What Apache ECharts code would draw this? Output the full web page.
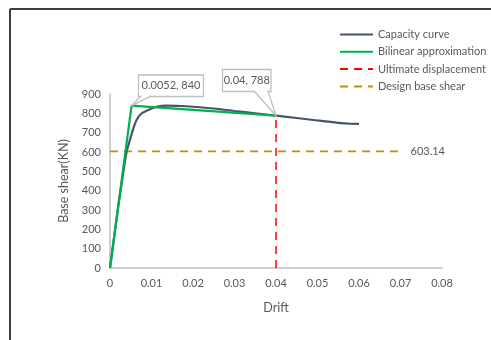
<!DOCTYPE html>
<html>
<head>
<meta charset="utf-8">
<script src="https://cdn.jsdelivr.net/npm/echarts@6/dist/echarts.min.js"></script>
<style>
  html, body { margin: 0; padding: 0; background: #fff; }
  #chart { width: 491px; height: 340px; }
</style>
</head>
<body>
<div id="chart"></div>
<script>
// Pushover capacity curve (drift vs base shear)
const capacityDrift = [0, 0.001, 0.002, 0.003, 0.004, 0.0048, 0.0056, 0.0064, 0.0075, 0.0092, 0.0112, 0.0137, 0.017, 0.02, 0.025, 0.03, 0.035, 0.04, 0.045, 0.05, 0.055, 0.058, 0.06];
const capacityShear = [0, 160, 320, 465, 600, 662, 720, 765, 798, 817, 834, 840, 838, 834, 825, 812, 800, 788, 776, 763, 751, 746, 745];

// Bilinear idealisation: origin, yield point, ultimate point
const bilinearDrift = [0, 0.0052, 0.04];
const bilinearShear = [0, 840, 788];

// Ultimate displacement marker
const ultimateDrift = [0.04, 0.04];
const ultimateShear = [0, 788];

// Design base shear level
const designDrift = [0, 0.07];
const designShear = [603.14, 603.14];

const seriesNames = ['Capacity curve', 'Bilinear approximation', 'Ultimate displacement', 'Design base shear'];
const xTicks = { min: 0, max: 0.08, interval: 0.01 };
const yTicks = { min: 0, max: 900, interval: 100 };

const zip = (xs, ys) => xs.map((x, i) => [x, ys[i]]);

const FONT = 'Lato, "Open Sans", sans-serif';
const TXT = '#595959';

const chart = echarts.init(document.getElementById('chart'), null, { renderer: 'canvas' });

chart.setOption({
  animation: false,
  backgroundColor: '#ffffff',
  textStyle: { fontFamily: FONT, color: TXT },
  grid: { left: 110, right: 49, top: 94, bottom: 72 },
  legend: {
    orient: 'vertical',
    left: 339,
    top: 29,
    padding: 0,
    itemWidth: 33,
    itemHeight: 10,
    itemGap: 6.3,
    itemStyle: { opacity: 0 },
    textStyle: { fontFamily: FONT, fontSize: 11, color: TXT },
    data: seriesNames
  },
  xAxis: {
    type: 'value',
    min: xTicks.min, max: xTicks.max, interval: xTicks.interval,
    name: 'Drift',
    nameLocation: 'middle',
    nameGap: 33,
    nameTextStyle: { fontFamily: FONT, fontSize: 12.5, color: TXT },
    axisLine: { show: true, lineStyle: { color: '#BFBFBF', width: 1.5 } },
    axisTick: { show: false },
    splitLine: { show: false },
    axisLabel: {
      fontFamily: FONT, fontSize: 11, color: TXT, margin: 10,
      formatter: v => (v === 0 ? '0' : String(+v.toFixed(2)))
    }
  },
  yAxis: {
    type: 'value',
    min: yTicks.min, max: yTicks.max, interval: yTicks.interval,
    name: 'Base shear(KN)',
    nameLocation: 'middle',
    nameGap: 25,
    nameRotate: 90,
    nameTextStyle: { fontFamily: FONT, fontSize: 12.5, color: TXT },
    axisLine: { show: true, lineStyle: { color: '#BFBFBF', width: 1.5 } },
    axisTick: { show: false },
    splitLine: { show: false },
    axisLabel: { fontFamily: FONT, fontSize: 11, color: TXT, margin: 9 }
  },
  series: [
    {
      name: seriesNames[0],
      type: 'line',
      data: zip(capacityDrift, capacityShear),
      smooth: 0.3,
      symbol: 'none',
      lineStyle: { color: '#44546A', width: 2.2 },
      itemStyle: { color: '#44546A' },
      z: 3
    },
    {
      name: seriesNames[1],
      type: 'line',
      data: zip(bilinearDrift, bilinearShear),
      symbol: 'none',
      lineStyle: { color: '#00B050', width: 2.2 },
      itemStyle: { color: '#00B050' },
      z: 4
    },
    {
      name: seriesNames[2],
      type: 'line',
      data: zip(ultimateDrift, ultimateShear),
      symbol: 'none',
      lineStyle: { color: '#FF0000', width: 1.5, type: [8, 6] },
      itemStyle: { color: '#FF0000' },
      z: 5
    },
    {
      name: seriesNames[3],
      type: 'line',
      data: zip(designDrift, designShear),
      symbol: 'none',
      lineStyle: { color: '#C09000', width: 1.6, type: [8, 6] },
      itemStyle: { color: '#C09000' },
      endLabel: {
        show: true,
        distance: 10,
        formatter: () => designShear[1].toFixed(2),
        fontFamily: FONT, fontSize: 11, color: TXT
      },
      z: 2
    }
  ]
});

// Callout boxes pointing at the yield and ultimate points
function callout(pt, text, box, wedge) {
  const [px, py] = chart.convertToPixel({ gridIndex: 0 }, pt);
  const [bx, by, bw, bh] = box;
  const [w1, w2] = wedge;
  const pts = [
    [bx, by], [bx + bw, by], [bx + bw, by + bh],
    [w2, by + bh], [px, py], [w1, by + bh], [bx, by + bh]
  ];
  return [
    {
      type: 'polygon',
      shape: { points: pts },
      style: { fill: '#ffffff', stroke: '#BFBFBF', lineWidth: 1.3 },
      z: 100
    },
    {
      type: 'text',
      x: bx + bw / 2,
      y: by + bh / 2,
      style: { text, fill: TXT, font: '11px ' + FONT, align: 'center', verticalAlign: 'middle' },
      z: 101
    }
  ];
}

const yieldPt = [bilinearDrift[1], bilinearShear[1]];
const ultPt = [bilinearDrift[2], bilinearShear[2]];

chart.setOption({
  graphic: [
    // outer frame
    { type: 'line', shape: { x1: 10, y1: 9, x2: 491, y2: 9 }, style: { stroke: '#404040', lineWidth: 2 } },
    { type: 'line', shape: { x1: 10, y1: 9, x2: 10, y2: 340 }, style: { stroke: '#404040', lineWidth: 2 } },
    ...callout(yieldPt, `${yieldPt[0]}, ${yieldPt[1]}`, [138.5, 75, 65, 21.5], [140.5, 150]),
    ...callout(ultPt, `${ultPt[0]}, ${ultPt[1]}`, [222.5, 69.5, 48.5, 22], [254.5, 268])
  ]
});
</script>
</body>
</html>
